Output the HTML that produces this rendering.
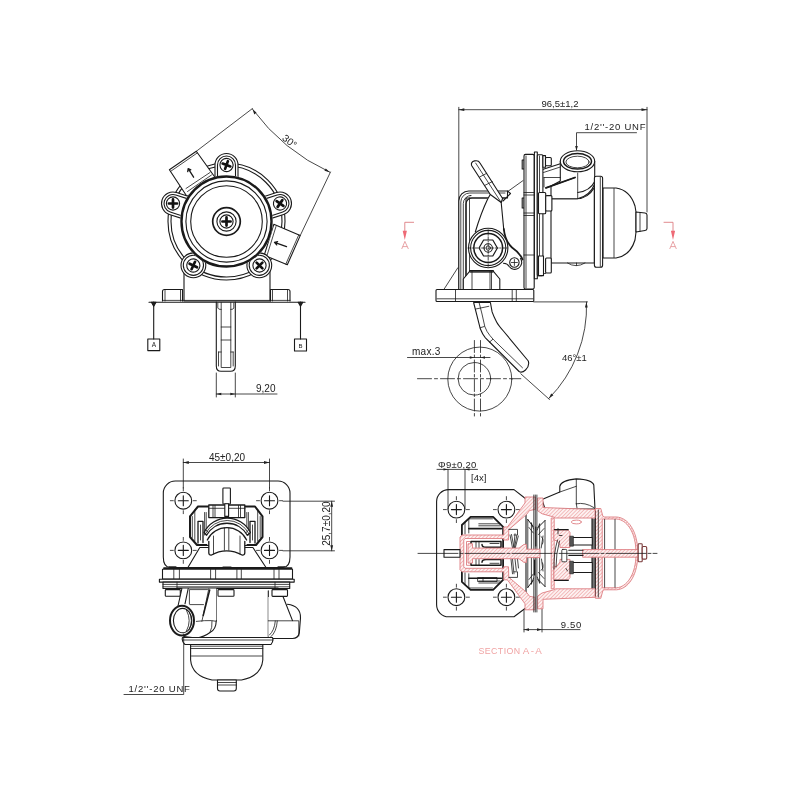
<!DOCTYPE html>
<html><head><meta charset="utf-8">
<style>
html,body{margin:0;padding:0;background:#fff;}
svg{display:block;will-change:transform;opacity:0.999;}
text{font-family:"Liberation Sans",sans-serif;font-size:10px;fill:#222;stroke:none;}
.k{fill:none;stroke:#1a1a1a;stroke-width:1.1;stroke-linecap:round;stroke-linejoin:round;}
.w{fill:#fff;}
.t{stroke-width:0.8;}
.b{stroke-width:1.8;}
.r{fill:none;stroke:#de7e82;stroke-width:0.9;stroke-linejoin:round;}
.h{fill:url(#hat);}
</style></head><body>
<svg width="800" height="800" viewBox="0 0 800 800">
<defs>
<g id="scr">
  <circle r="6.6" class="k w"/>
  <path d="M-4.1,0H4.1M0,-4.1V4.1" stroke="#111" stroke-width="2.7" stroke-linecap="round" fill="none"/>
</g>
<g id="boss">
  <path class="k w" d="M-11.5,16V0A11.5,11.5 0 0 1 11.5,0V16"/>
  <path class="k" d="M-9,16V0A9,9 0 0 1 9,0V16"/>
</g>
<marker id="ar" viewBox="0 0 10 6" refX="10" refY="3" markerWidth="8" markerHeight="5" orient="auto-start-reverse"><path d="M0,0.6L10,3L0,5.4Z" fill="#222"/></marker>
</defs>
<rect width="800" height="800" fill="#fff"/>

<!-- ============ VIEW 1 (top-left) ============ -->
<g id="v1" class="k">
  <!-- lower body -->
  <path class="w" d="M184,262V301H270V262Z"/>
  <path class="w" d="M162.5,301V291.5Q162.5,289.5 164.5,289.5H182.5V301M270.5,301V289.5H288Q290,289.5 290,291.5V301"/>
  <path class="t" d="M165,290V301M180.5,290V301M272.5,290V301M287.5,290V301"/>
  <!-- housing -->
  <circle class="w" cx="226.5" cy="221.5" r="58.5"/>
  <circle cx="226.5" cy="221.5" r="55.5"/>
  <!-- inlet port -->
  <path class="w" d="M187,196.5L169.4,169.8L196.3,151.3L215.5,178Z"/>
  <path class="t" d="M170.6,171.4L197.2,153"/>
  <path class="t" d="M186,188.5L210,172.5M187.5,191.5L211.5,175"/>
  <path d="M188.2,168.6L193.6,177.2M188.2,168.6L187.7,171.7M188.2,168.6L190.8,169.8" stroke-width="1.3"/>
  <!-- outlet port -->
  <path class="w" d="M273.8,224.3L300.2,235.6L287.3,264.8L264.2,255.3Z"/>
  <path class="t" d="M298.7,235L285.8,264.1M276,226.5L267,255.5"/>
  <path d="M274.5,242.4L286.5,246.7M274.5,242.4L277.6,241.6M274.5,242.4L276.7,244.9" stroke-width="1.3"/>
  <!-- bosses -->
  <g transform="translate(226.5,165)"><use href="#boss"/></g>
  <g transform="translate(280,203.5) rotate(72)"><use href="#boss"/></g>
  <g transform="translate(173,203.5) rotate(-72)"><use href="#boss"/></g>
  <circle class="w" cx="259.3" cy="265.3" r="12.4"/><circle cx="259.3" cy="265.3" r="10.1"/>
  <circle class="w" cx="193.4" cy="265.3" r="12.4"/><circle cx="193.4" cy="265.3" r="10.1"/>
  <!-- main circles -->
  <circle class="w" cx="226.5" cy="221.5" r="46.3" stroke="none"/>
  <circle cx="226.5" cy="221.5" r="45" stroke-width="2.4"/>
  <circle cx="226.5" cy="221.5" r="40.6"/>
  <circle cx="226.5" cy="221.5" r="35.8"/>
  <circle cx="226.5" cy="221.5" r="13.8" stroke-width="1.7"/>
  <circle cx="226.5" cy="221.5" r="9.6"/>
  <use href="#scr" x="226.5" y="221.5"/>
  <use href="#scr" transform="translate(226.5,165) rotate(20)"/>
  <use href="#scr" transform="translate(280,203.5) rotate(35)"/>
  <use href="#scr" x="173" y="203.5"/>
  <use href="#scr" transform="translate(259.5,265.5) rotate(45)"/>
  <use href="#scr" transform="translate(193.3,265.5) rotate(25)"/>
  <!-- lever below -->
  <path class="w" d="M216.3,302V366Q216.3,371.3 221,371.3H230.5Q235.3,371.3 235.3,366V302"/>
  <path class="t" d="M221.2,302.5V367.5H230.8V302.5M217.8,303V308Q218,309.5 221.2,309.5M233.8,303V308Q233.6,309.5 230.8,309.5M221.2,327H230.8M221.2,340H230.8M218.5,352V366M233.2,352V366M221.2,352H218.5M230.8,352H233.2"/>
  <!-- base line & datum -->
  <path d="M149,302.3H305"/><path class="t" d="M163,300.4H290"/>
  <path d="M153.7,302V339M300.5,302V339"/>
  <path d="M151.4,302.3H156L153.7,306.3Z M298.2,302.3H302.8L300.5,306.3Z" fill="#222"/>
  <rect x="147.8" y="339" width="12" height="11.6"/>
  <rect x="294.5" y="339" width="12" height="12"/>
  <!-- dim 9,20 -->
  <path class="t" d="M216.3,373V397M235.3,373V397"/>
  <path class="t" d="M216.3,394H277" />
  <path d="M216.3,394l5,-1.3v2.6Z M235.3,394l-5,-1.3v2.6Z" fill="#222" stroke="none"/>
  <!-- 30 deg dim -->
  <path class="t" d="M196.3,151.3L252.5,108.5M300.2,235.6L330.5,172"/>
  <path class="t" d="M252.5,109.2A200,200 0 0 0 329.8,172.2"/>
  <path d="M252.5,109.2l1.8,5.2l2.2,-1.8Z M329.8,172.2l-5.4,-1.4l1.4,-2.4Z" fill="#222" stroke="none"/>
</g>
<text x="256" y="392.3">9,20</text>
<text x="151.7" y="347.3" style="font-size:6.5px">A</text>
<text x="298.4" y="348" style="font-size:6px">B</text>
<text transform="translate(281.5,139.3) rotate(38)" style="font-size:10px">30°</text>

<!-- ============ VIEW 2 (top-right) ============ -->
<g id="v2" class="k">
  <!-- dimension ext lines -->
  <path class="t" d="M458.8,107.3V290M647,107.3V212"/>
  <path class="t" d="M458.8,109.7H647"/>
  <path d="M458.8,109.7l5.5,-1.4v2.8Z M647,109.7l-5.5,-1.4v2.8Z" fill="#222" stroke="none"/>
  <!-- 1/2 UNF leader -->
  <path class="t" d="M636.5,132.7H576.5V150"/>
  <path d="M576.5,151l-1.3,-5h2.6Z" fill="#222" stroke="none"/>

  <!-- body -->
  <path class="w" d="M551,198.8H576Q588,198.8 594.4,187.5V263H551Z"/>
  <path class="t" d="M567.5,263Q576,268.5 585,263"/>
  <path class="t" d="M576.5,263V265.5"/>
  <!-- port -->
  <path class="w" d="M560.3,161.3V181L551,186V198.8H577.5Q590,196 594.7,184V161.3Z"/>
  <path class="t" d="M577.7,173V198.5"/>
  <path d="M577.7,192.5Q590,191 594.7,181.5"/>
  <ellipse class="w" cx="577.5" cy="161.3" rx="17.2" ry="10.5"/>
  <ellipse cx="577.5" cy="161.3" rx="14" ry="7.8" stroke-width="1.5"/>
  <ellipse class="t" cx="577.5" cy="162" rx="11.6" ry="5.8"/>
  <!-- ribs -->
  <path d="M542.5,169.5L560.3,163.8M545.6,188L575,177.5" />
  <path class="b" d="M546,187.8L575,177.5"/>
  <path class="t" d="M543.5,172.5L560.3,167M544,177.5H560.3M544,177.5V187"/>
  <!-- dome flange + dome -->
  <path class="w" d="M603,188H616Q630,190 635,206L636,212V232L635,240Q630,256 616,258H603Z"/>
  <path class="t" d="M614,188.5V257.5"/>
  <path class="w" d="M636,212L645,213Q647,213.2 647,215V228.5Q647,230.3 645,230.5L636,232Z"/>
  <path class="t" d="M640,212.5V231.5"/>
  <rect class="w" x="594.4" y="176.3" width="8.2" height="91" rx="2"/>
  <path class="t" d="M600.3,177V266.5"/>

  <!-- bracket -->
  <path class="w" d="M458.8,289.5V201A10,10 0 0 1 468.8,191H507.5V198H466V289.5Z"/>
  <path class="t" d="M460.8,289.5V202A9,9 0 0 1 469.8,193H505"/>
  <path class="t" d="M463.3,289.5V203.5A8,8 0 0 1 471.3,195.5H470"/>
  <path d="M466,289.5V204A6,6 0 0 1 472,198H505.5"/>
  <path d="M507.5,191L510.5,193.5L503,201"/>
  <path class="t" d="M508,191.3L523,180.6"/>
  <path class="t" d="M444.3,288.8L457.8,267.8"/>
  <path class="t" d="M469.5,198V289.5"/>

  <!-- lever body -->
  <path class="w" d="M488.5,196L475.3,232L503.8,250V230L501.2,202.5L497,195Z" stroke="none"/>
  <path d="M490.3,194.5L487.8,198.8Q481,213 475.3,232M501.2,202.5L503.8,230"/>
  <!-- upper arm -->
  <path class="w" d="M471.6,165.5Q470.5,162 474.6,160.9Q478.6,160.1 479.8,162.8L502.6,198.5L501.2,202.5L490.3,194.5Z"/>
  <path class="t" d="M475.7,163.1L501.2,202.5"/>
  <path class="t" d="M479.6,177L486.7,173.3M485,185.3L492.3,181.6"/>
  <!-- pivot lobe -->
  <path class="w b" d="M503.8,229Q505,241 512,247.5Q520,253 522.5,259.5"/>
  <path class="w" d="M503.5,263.3Q507.5,263.5 509,266.3A6.8,6.8 0 1 0 520.5,258.5"/>
  <circle cx="514.4" cy="262.5" r="4.7"/>
  <path class="t" d="M514.4,259.5V265.5M511.4,262.5H517.4"/>
  <!-- pivot -->
  <circle class="w" cx="488.2" cy="248" r="19.7"/>
  <circle cx="488.2" cy="248" r="17.6"/>
  <circle cx="488.2" cy="248" r="14.4" stroke-width="1.5"/>
  <path d="M479,248L483.6,240H492.8L497.4,248L492.8,256H483.6Z" stroke-width="1.2"/>
  <circle cx="488.2" cy="248" r="4.2"/>
  <circle class="t" cx="488.2" cy="248" r="2.2"/>
  <path class="t" d="M488.2,230V266M468,248H508" stroke-dasharray="3 1.5 0.8 1.5" stroke-width="0.35"/>
  <!-- nut under pivot -->
  <path class="w" d="M463.3,289.5V279L470,270.8H493L499.8,279V289.5Z"/>
  <path class="t" d="M472,271V289.5M490,271V289.5M491.5,271V289.5M470,272.3H493"/>
  <path class="b" d="M470,270.8H493"/>
  <!-- flange stack -->
  <rect class="w" x="522.2" y="160" width="2" height="9"/>
  <rect class="w" x="522.2" y="198" width="2" height="10"/>
  <rect class="w" x="524" y="154.4" width="10.2" height="134.6" rx="1.5"/>
  <rect class="w" x="534.4" y="152" width="2.9" height="126.8"/>
  <rect class="w" x="537.3" y="154.8" width="5.6" height="120.8" rx="1"/>
  <path class="t" d="M526,156V288M539.5,156V275M524,192.5H534M524,195H534M524,213H534M524,215.5H534M524,255H534"/>
  <!-- bolts -->
  <rect class="w" x="542.9" y="155.6" width="2.6" height="11.6"/>
  <rect class="w" x="545.5" y="157.5" width="5.8" height="8.2" rx="1"/>
  <rect class="w" x="538.5" y="192.5" width="7.2" height="21.3" rx="1"/>
  <rect class="w" x="545.7" y="195.6" width="6.2" height="15.4" rx="1"/>
  <rect class="w" x="538.5" y="256" width="5" height="19.6"/>
  <rect class="w" x="545.6" y="258" width="5.7" height="15" rx="1"/>
  <path class="t" d="M543.5,258V273.5H545.6"/>
  <!-- base plate -->
  <rect class="w" x="436" y="289.5" width="97.8" height="12" rx="1"/>
  <path class="t" d="M455.5,289.5V301.5M512.2,289.5V301.5M516.3,289.5V301.5M437,298.8H533"/>

  <!-- circle -->
  <circle class="t" cx="479.8" cy="379.1" r="32" stroke-width="0.9"/>
  <circle class="t" cx="474.4" cy="378.8" r="16.3" stroke-width="0.9"/>
  <!-- lower lever -->
  <path class="w" d="M473.6,302.5L476.9,315.3L480.3,328.8Q482.5,334.5 485.4,337.8L492.1,344.5L519.1,371.5Q522,373.2 525.5,370Q529.8,366 528.3,361L503.4,331Q498.5,325.5 496.6,322Q493.5,316 492.1,311.9L490.4,302.5Z"/>
  <path class="t" d="M479.2,303L482,314L484.8,326.5Q486.8,332 489.9,335.5L493.8,340L522.5,367.8"/>
  <path class="t" d="M475.8,309L488.8,306.3M480.3,327.7L484.3,326.5M489.3,342.3L492.7,339.4"/>
  <path class="t" d="M417.5,378.7H520.8" stroke-dasharray="14 3 3 3"/>
  <path class="t" d="M474.4,340.5V417.5M480.5,340.5V417.5" stroke-dasharray="12 2.5 2.5 2.5"/>
  <path class="t" d="M407.5,357.5H490"/>
  <path d="M474.3,357.5l-4.5,-1.2v2.4Z M480.5,357.5l4.5,-1.2v2.4Z" fill="#222" stroke="none"/>
  <!-- angle dim -->
  <path class="t" d="M533.8,301.9H587.5"/>
  <path class="t" d="M520.8,373.8L549.5,399.5"/>
  <path class="t" d="M586.5,302A130.5,130.5 0 0 1 548.8,398.5"/>
  <path d="M586.5,302l1.2,5.5h-2.8Z M548.8,398.5l2.4,-5l2.2,1.8Z" fill="#222" stroke="none"/>
</g>
<text x="541.5" y="107.3" style="font-size:9.5px">96,5±1,2</text>
<text x="584.5" y="130" style="font-size:9.5px;letter-spacing:0.75px">1/2''-20 UNF</text>
<text x="411.9" y="354.8" style="font-size:10px;letter-spacing:0.3px">max.3</text>
<text x="562" y="361.3" style="font-size:9.5px">46°±1</text>
<!-- section markers -->
<g class="r" stroke-width="0.8" stroke="#ee8a8f">
  <path d="M414,222.3H404.8V232M663.6,222.3H673V232"/>
  <path d="M404.8,240l-2.1,-9.3h4.2Z M673,240l-2.1,-9.3h4.2Z" fill="#ee6a76" stroke="none"/>
  <path d="M401.7,249L404.9,241.4L408.4,249M402.8,246.6H407.2M669.7,249L673,241.4L676.4,249M670.8,246.6H675.2" stroke-width="0.7"/>
</g>

<!-- ============ VIEW 3 (bottom-left) ============ -->
<defs>
<g id="hole">
  <circle r="8.4" class="k w" stroke-width="0.95"/>
  <path class="k" d="M-5,0H5M0,-5V5" stroke-width="0.9"/>
  <path class="k t" d="M-13,0H-10M10,0H13M0,-13V-10M0,10V13"/>
</g>
</defs>
<g id="v3" class="k">
  <!-- plate -->
  <path class="w" d="M163.3,557V493A12,12 0 0 1 175.3,481H278A12,12 0 0 1 290,493V557Q290,567 283,567.5H170Q163.3,567 163.3,557Z"/>
  <use href="#hole" x="183.3" y="500.7"/><use href="#hole" x="269.5" y="500.7"/>
  <use href="#hole" x="183.3" y="550.4"/><use href="#hole" x="269.5" y="550.4"/>
  <!-- dims -->
  <path class="t" d="M183.3,459V488M269.5,459V488M183.3,462.5H269.5"/>
  <path d="M183.3,462.5l5.5,-1.4v2.8Z M269.5,462.5l-5.5,-1.4v2.8Z" fill="#222" stroke="none"/>
  <path class="t" d="M283,501.2H334.5M283,550.8H334.5M331.7,501.2V550.8"/>
  <path d="M331.7,501.2l-1.4,5.5h2.8Z M331.7,550.8l-1.4,-5.5h2.8Z" fill="#222" stroke="none"/>
  <!-- trapezoid to flange -->
  <path class="w" d="M199.8,547.5L187.9,567.5H266L252.9,547.5Z"/>
  <!-- central assembly -->
  <path class="w" stroke-width="2" d="M198,506.5H255L262.5,516.3V537L256,545H197L190,537V516.3Z"/>
  <path class="t" d="M192.3,516.5V537.5M194.8,510V541M260.2,516.5V537.5M257.7,510V541"/>
  <path d="M198,521.3H203V542.5M198,521.3V543M255,521.3H250V542.5M255,521.3V543" stroke-width="1.3"/>
  <path class="t" d="M200.5,525V540M252.5,525V540M204.6,512.5V535M206.2,512.5V533M248.4,512.5V535M246.8,512.5V533"/>
  <rect class="w" x="208.8" y="505" width="36" height="12.6" stroke-width="1.3"/>
  <path class="t" d="M213,505.5V517M215,505.5V517M240.5,505.5V517M238.5,505.5V517M209,508.3H245"/>
  <rect class="w" x="222.9" y="488" width="7.5" height="16" rx="0.8"/>
  <rect class="w" x="224.8" y="503.8" width="3.8" height="12.6"/>
  <!-- arcs -->
  <path class="w" stroke-width="1.3" d="M204.1,532.5A25.8,25.8 0 0 1 250.4,532.5L247.3,535.2A23.3,23.3 0 0 0 206.6,535.2Z"/>
  <path class="t" d="M205.4,533.8A24.5,24.5 0 0 1 249,533.8M205.8,529.8L208.6,532.8M248.7,529.8L245.9,532.8"/>
  <path class="w" d="M207.3,540A21.8,21.8 0 0 1 246.6,540V545H207.3Z" stroke="none"/>
  <path d="M207.3,540A21.8,21.8 0 0 1 246.6,540" stroke-width="1.3"/>
  <!-- saddle -->
  <path class="w" stroke-width="1.3" d="M208.8,541.3V553Q209,555.2 211,555.2Q226.6,546.5 242.5,555.2Q244.6,555.2 244.8,553V541.3"/>
  <path class="t" d="M213.5,536V554M224.4,528V550.2M228.8,528V550.2M240,536V554"/>
  <!-- flange bands -->
  <rect class="w" x="162.5" y="569.3" width="130" height="9.8"/>
  <path class="b" d="M164,568.2H291.5"/>
  <path class="t" d="M173.8,569.5V579M179.4,569.5V579M210.6,569.5V579M215.6,569.5V579M236.9,569.5V579M241.3,569.5V579M274,569.5V579M279,569.5V579"/>
  <path class="t" d="M169,566.6H176M278,566.6H285M223,566.9H231"/>
  <rect class="w" x="159.4" y="579.3" width="134.8" height="2.8"/>
  <rect class="w" x="163" y="582.1" width="126.7" height="6.4"/>
  <path class="t" d="M163,584.4H289.7M163,586.8H289.7"/>
  <!-- body -->
  <path class="w" d="M216.3,588.5V637.5H268.3V588.5Z" stroke="none"/>
  <path d="M216.3,588.5V621M268.3,590.8V636.4"/>
  <!-- lower bolts row -->
  <rect class="w" x="165.3" y="589.6" width="15" height="6.6" rx="0.8"/>
  <rect class="w" x="218" y="589.6" width="16" height="6.6" rx="0.8"/>
  <rect class="w" x="272" y="589.6" width="15.5" height="6.8" rx="0.8"/>
  <path d="M177,588.3H278" stroke-width="1.6"/>
  <path class="t" d="M177,582.3V588.3M275,582.3V588.3"/>
  <!-- right port -->
  <path class="w" d="M283,597L287.4,604.3Q300.5,606 300.4,618L299.3,633Q298,638.5 292.5,638.5H274L268.3,636.4V597Z" stroke="none"/>
  <path d="M283,596.5L292.5,620.6M287.4,604.3Q300.8,606 300.5,618L299.3,633Q298,638.5 292.5,638.5H272"/>
  <path class="t" d="M268.3,620.8H298.8V636M277.3,621Q276.5,632 271,636.6M275.3,621Q274.5,630.5 269.5,635"/>
  <!-- left port tube + ribs -->
  <path class="w" d="M181.9,588.5L178,606L182,636L196.3,638Q204,637 210,632.5Q216,630 216.3,620.6V588.5Z" stroke="none"/>
  <path d="M181.9,588.5L178,606M188.2,588.5L185,603.8"/>
  <path class="t" d="M189.4,604V589.6H207.5M208.8,588.8L201.9,621.3"/>
  <path stroke-width="1.5" d="M209.7,590L203.2,615.5"/>
  <path class="t" d="M190,604.6H203.5M196.3,621.4Q205,620.3 211.3,620.6L215.5,621.2M212,621Q212.5,628 210,632.3"/>
  <path d="M216.3,620.6Q216,630 210,632.5Q204,637 196.3,638L184,636.5"/>
  <!-- left port ellipse -->
  <ellipse class="w" cx="182" cy="620.6" rx="12" ry="14.8" stroke-width="2"/>
  <ellipse cx="182.6" cy="620.6" rx="9.2" ry="12.2"/>
  <path class="t" d="M186.5,610.3Q192,620.6 186.5,630.9M189.3,611.8Q193.6,620.6 189.3,629.4"/>
  <!-- ledge -->
  <path class="w" d="M182.5,637.5H272.5Q273.8,641 271,644.5H185Q181.3,641 182.5,637.5Z"/>
  <path class="t" d="M183,640H273"/>
  <!-- dome -->
  <path class="w" d="M190.6,644.5V660Q192,676 212,680H241.5Q261.5,676 262.8,660V644.5Z"/>
  <path class="t" d="M190.6,646.2H262.8M190.6,648.5H262.8M191.5,656H262"/>
  <path class="w" d="M217.5,680V688.5Q217.5,691 220,691H233.8Q236.3,691 236.3,688.5V680Z"/>
  <path class="t" d="M217.5,682.5H236.3M217.5,685H236.3"/>
  <!-- leader -->
  <path class="t" d="M183.7,634V694.5H124"/>
</g>
<text x="209" y="460.5" style="font-size:10px">45±0,20</text>
<text transform="translate(329.6,545.8) rotate(-90)" style="font-size:10px">25,7±0,20</text>
<text x="128.4" y="692.3" style="font-size:9.5px;letter-spacing:0.8px">1/2''-20 UNF</text>

<!--V4START-->
<!-- ============ VIEW 4 (section) ============ -->
<defs><pattern id="hat" width="2.6" height="2.6" patternUnits="userSpaceOnUse" patternTransform="rotate(-45)"><rect width="2.6" height="2.6" fill="#fdf1f1"/><path d="M0,1.3H2.6" stroke="#efaaaa" stroke-width="0.75"/></pattern></defs>
<g id="v4" class="k">
<path class="w" d="M436.6,501.6A12,12 0 0 1 448.6,489.6H514L526,499V607.8L514,616.8H448.6A12,12 0 0 1 436.6,604.8Z"/>
<use href="#hole" x="456.4" y="509.6"/>
<use href="#hole" x="506.4" y="509.6"/>
<use href="#hole" x="456.4" y="597.2"/>
<use href="#hole" x="506.4" y="597.2"/>
<path class="t" d="M437,469.4H477.5M448,469.4V509M465,469.4V509"/>
<path d="M448,469.4l-4.5,-1.2v2.4Z M465,469.4l4.5,-1.2v2.4Z" fill="#222" stroke="none"/>
<path class="t" d="M524,610V632M542,604V632M524,629.6H580"/>
<path d="M524,629.6l5,-1.3v2.6Z M542,629.6l-5,-1.3v2.6Z" fill="#222" stroke="none"/>
<path class="w" stroke-width="1.8" d="M461.9,553.4L461.9,525L470.6,516.9L493.1,516.9L503.1,526.9L503.1,553.4L503.1,553.4L503.1,579.9L493.1,589.9L470.6,589.9L461.9,581.8L461.9,553.4Z"/>
<path class="t" d="M468.8,533L468.8,518.8L492.5,518.8M468.8,573.8L468.8,588L492.5,588M478.8,523.8L500,523.8M478.8,583L500,583M478.8,525.8L500,525.8M478.8,581L500,581M465,522L465,534M465,584.8L465,572.8"/>
<path stroke-width="1.6" d="M468.8,528.6L501.5,528.6M468.8,578.2L501.5,578.2"/>
<path class="t" d="M478,577.5H497V581.5H478ZM483,577.5V581.5"/>
<path class="w" d="M542,499.4L559.8,492V486.3Q561,480.5 576.3,478.9Q592,479.5 593.8,485L595,509H545Z"/>
<path class="t" d="M576.3,479.4V503.8M559.8,492L576.3,486.3M576.3,503.8Q585,502 593.8,507.5M576.3,503.8L577,508"/>
<g class="r">
<path class="h" fill-rule="evenodd" d="M595.8,508.5H600.8L602.8,516L604,517H616.5C628.5,517.8 636.5,531 637.6,548V558.8C636.5,575.8 628.5,589 616.5,589.8H604L602.8,590.8L600.8,598.3H595.8Z M602.6,519H616.5C627,519.8 634.7,532 635.8,548V558.8C634.7,574.8 627,587 616.5,587.8H602.6Z"/>
</g>
<path class="t" d="M598.3,510V597M604.6,519.5V587.3M615,519.5V587.3"/>
<rect x="592" y="518.5" width="3.3" height="70" fill="#777" stroke="none"/><path d="M592,511V596M595.3,511V596" />
<g class="r h">
<path d="M535,497L525,497L525,503L507.4,527L503.75,527L503.75,535L462,535L460,537L460,569.8L462,571.8L503.75,571.8L503.75,579.8L507.4,579.8L525,603.8L525,609.8L535,609.8L535,597.3L529.5,596.3L526.5,592.3L508.75,577.2L508.5,566.8L503.75,566.8L503.75,568.3L465,568.3L463.75,566.8L463.75,540L465,538.5L503.75,538.5L503.75,540L508.5,540L508.75,529.6L526.5,514.5L529.5,510.5L535,509.5Z"/>
<path d="M538,498L543,498L543,507.5L575,508.75L595,509.5L595,518L555.5,518L553.75,517L542,513.75L538,511ZM538,608.8L543,608.8L543,599.3L575,598.05L595,597.3L595,588.8L555.5,588.8L553.75,589.8L542,593.05L538,595.8Z"/>
<path d="M551.6,518H554.2V588.8H551.6Z"/>
<path d="M554.2,530L568,530L570,532.5L570,547.5L560,547.5L560,545L557,541L554.2,540ZM554.2,580L568,580L570,577.5L570,559.4L560,559.4L560,562L557,566L554.2,567Z"/>
<path d="M583,549.6H638V557.2H583Z"/>
</g>
<g class="r"><ellipse cx="576.3" cy="522" rx="5" ry="1.9"/>
<path d="M466.5,553.4L466.5,541.5L470,541.5M466.5,553.4L466.5,565.3L470,565.3"/></g>
<rect class="w" x="444" y="549.6" width="16" height="7.6"/>
<path d="M568.8,550.2H583M568.8,555.4H583" />
<rect class="w" x="638.2" y="543.8" width="4" height="18" rx="0.8" stroke="#7a3a3a"/><rect class="w" x="642.2" y="546.5" width="4.5" height="12.6" rx="1.2" stroke="#7a3a3a"/>
<path stroke-width="1.5" d="M471,541.5H501V547.3H486Q482,547.3 482,544.5M471,541.5V547M471,565.3H501V559.5H486Q482,559.5 482,562.3M471,565.3V560"/>
<path class="t" d="M476,541.5V547.5M479,541.5V547.5M476,559.5V565M479,559.5V565M490,543.5H499M490,563.3H499"/>
<path class="t" d="M510,535L512.5,547.8M511.5,534.5L514,547.8M515,533.8L513.8,547.8M518.3,536L515.3,547.8M516.8,535.5L514.5,547.8M511,559L512.5,573.8M512.5,559L514,573.8M515,559L516.3,570.5M517.5,559L518.5,568"/>
<path class="t" d="M508.8,529.4H517.5V535H514M508.8,577.4H517.5V571.8H514"/>
<path class="t" d="M533.8,495V612M535.3,495V612M536.9,495V612" stroke-width="0.7"/>
<path class="t" d="M527.8,519.5V587.5M531.4,523V584M539.6,524V583M545,520.5V586.5"/>
<path d="M527.8,519.5L533,526.5M545,520.5L538,527.5M527.8,587.5L533,580.5M545,586.5L538,579.5" stroke-width="1"/>
<path class="t" d="M529,527.5L533.3,533M544,528.5L538.5,534.5M529,579.5L533.3,574M544,578.5L538.5,572.5M531.4,523L533.6,529M539.6,524L537.2,530M531.4,584L533.6,578M539.6,583L537.2,577"/>
<path class="t" d="M541,536.5Q544.5,538.5 542.5,544M541,570.3Q544.5,568.3 542.5,562.8M543,536L541.2,548M543,571L541.5,559"/>
<path stroke-width="1.2" d="M534.6,560V575M535.8,527V546"/>
<g class="r h">
<path d="M468,553.4L468,543.75L472.5,543.75L472.5,548.1L519,548.1L524,544.4L526.5,544.4L526.5,549.2L540,549.2L540,553.4L540,553.4L540,557.6L526.5,557.6L526.5,562.4L524,562.4L519,558.7L472.5,558.7L472.5,563.05L468,563.05L468,553.4Z"/>
</g>
<path stroke-width="1.3" d="M554.5,529.6H568.2M554.5,580.4H568.2"/>
<rect class="w" x="572.5" y="537.5" width="19.8" height="7.5"/><rect class="w" x="572.5" y="562.5" width="19.8" height="10"/>
<rect x="570" y="536.2" width="3.4" height="10" fill="#555" stroke-width="0.6"/><rect x="570" y="561.2" width="3.4" height="12.6" fill="#555" stroke-width="0.6"/>
<rect x="561.8" y="549.4" width="5" height="12.4" rx="1" class="w t"/>
<path class="t" d="M557.5,540Q553.5,553.4 554,569M559.5,541Q556,553.4 556,567"/>
<path class="t" d="M558,528.5V534M559.5,535.5H562M566,568.5L567.5,571"/>
<path class="t" d="M418,553.4H657" stroke-dasharray="40 2 3 2"/>
</g>
<text x="438" y="468" style="font-size:9.5px;letter-spacing:0.3px">Φ9±0,20</text>
<text x="471" y="480.6" style="font-size:9.5px">[4x]</text>
<text x="560.8" y="627.6" style="font-size:9.5px;letter-spacing:0.7px">9.50</text>
<text x="478.4" y="654.2" style="font-size:8.8px;fill:#f0a3a3;letter-spacing:0.45px">SECTION</text><text x="522.8" y="654.2" style="font-size:9.8px;fill:#f0a3a3;letter-spacing:1.3px">A-A</text>
<!--V4END-->
</svg>
</body></html>
